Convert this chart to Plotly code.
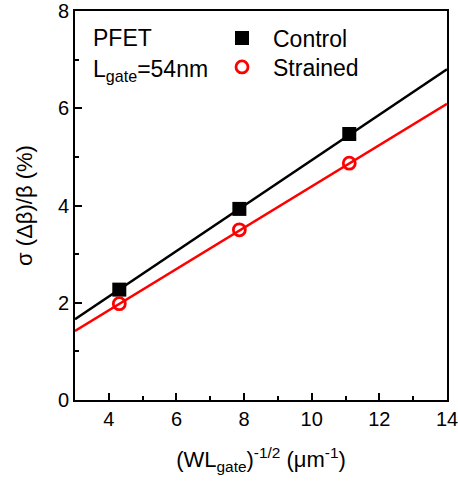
import plotly.graph_objects as go

# Data
x_vals = [4.31, 7.86, 11.11]
control_vals = [2.27, 3.93, 5.47]
strained_vals = [1.98, 3.50, 4.87]

fit_x = [3.0, 14.0]
control_fit = [1.66, 6.80]
strained_fit = [1.42, 6.09]

FONT = "Liberation Sans, Arial, sans-serif"

W, H = 458, 482
ML, MT, MR, MB = 75, 11, 11, 82
PW = W - ML - MR
PH = H - MT - MB


def fx(px):
    return (px - ML) / PW


def fy(py):
    return 1 - (py - MT) / PH


fig = go.Figure()
fig.add_trace(go.Scatter(x=fit_x, y=control_fit, mode="lines",
                         line=dict(color="black", width=2.5), showlegend=False))
fig.add_trace(go.Scatter(x=fit_x, y=strained_fit, mode="lines",
                         line=dict(color="#ff0000", width=2.5), showlegend=False))
fig.add_trace(go.Scatter(x=x_vals, y=control_vals, mode="markers", name="Control",
                         legend="legend",
                         marker=dict(symbol="square", size=14, color="black",
                                     line=dict(width=0))))
fig.add_trace(go.Scatter(x=x_vals, y=strained_vals, mode="markers", name="Strained",
                         legend="legend2",
                         marker=dict(symbol="circle-open", size=12, color="#ff0000",
                                     line=dict(width=2.8, color="#ff0000"))))

axis_common = dict(showline=True, linecolor="black", linewidth=1.8, mirror=True,
                   ticks="inside", ticklen=7, tickwidth=1.5, tickcolor="black",
                   showgrid=False, zeroline=False, automargin=False,
                   ticklabeloverflow="allow",
                   tickfont=dict(family=FONT, size=20, color="black"))

fig.update_xaxes(range=[3, 14], tickvals=[4, 6, 8, 10, 12, 14],
                 minor=dict(ticks="inside", ticklen=4, tickvals=[5, 7, 9, 11, 13],
                            tickcolor="black", tickwidth=1.5),
                 title=dict(text="(WL<sub>gate</sub>)<sup>-1/2</sup> (μm<sup>-1</sup>)",
                            font=dict(family=FONT, size=22, color="black"), standoff=23),
                 **axis_common)
fig.update_yaxes(range=[0, 8], tickvals=[0, 2, 4, 6, 8],
                 minor=dict(ticks="inside", ticklen=4, tickvals=[1, 3, 5, 7],
                            tickcolor="black", tickwidth=1.5),
                 title=dict(text="σ (Δβ)/β (%)",
                            font=dict(family=FONT, size=22, color="black"), standoff=19),
                 **axis_common)

fig.add_annotation(x=fx(91), y=fy(38), xref="x domain", yref="y domain",
                   text="PFET", showarrow=False, xanchor="left", yanchor="middle",
                   font=dict(family=FONT, size=23, color="black"))
fig.add_annotation(x=fx(91), y=fy(54), xref="x domain", yref="y domain",
                   text="L<sub>gate</sub>=54nm", showarrow=False, xanchor="left",
                   yanchor="top", font=dict(family=FONT, size=23, color="black"))

legend_common = dict(xanchor="left", yanchor="middle", bgcolor="rgba(0,0,0,0)",
                     borderwidth=0, itemwidth=52,
                     font=dict(family=FONT, size=23, color="black"))

fig.update_layout(
    width=W, height=H,
    margin=dict(l=ML, r=MR, t=MT, b=MB, autoexpand=False),
    paper_bgcolor="white", plot_bgcolor="white",
    showlegend=True,
    legend=dict(x=fx(211), y=fy(38), **legend_common),
    legend2=dict(x=fx(211), y=fy(67), **legend_common),
)

fig.write_html("out.html", config={"displayModeBar": False},
               post_script="document.body.style.margin='0';document.body.style.overflow='hidden';")
